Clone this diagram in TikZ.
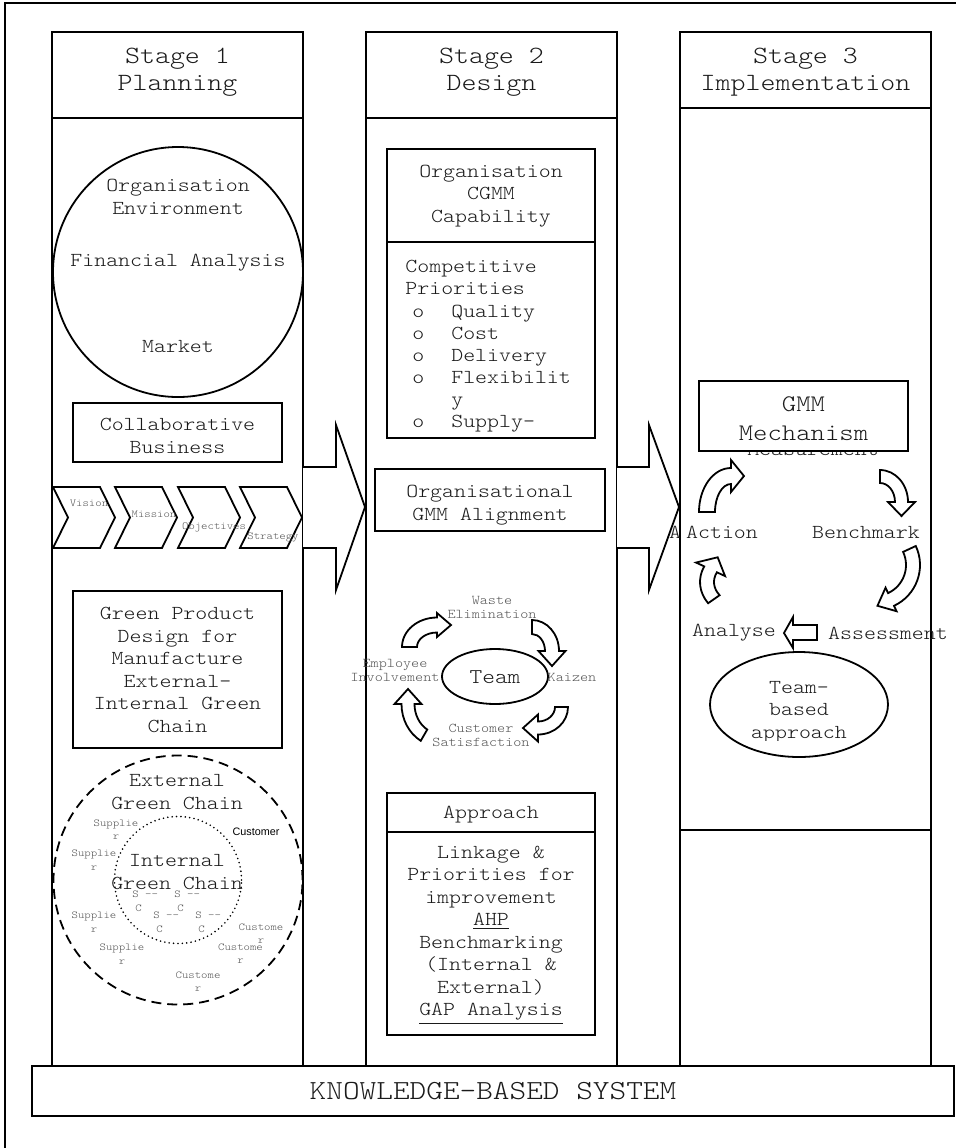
\documentclass[tikz,border=0pt]{standalone}
\usepackage{fontspec}
\setmainfont[FakeStretch=1.15]{lmmonolt10-regular.otf}
\newfontfamily\arialfont{Liberation Sans}
\usetikzlibrary{shapes.geometric,calc}
\definecolor{lbl}{HTML}{555555}
\definecolor{txt}{HTML}{1A1A1A}
\newcommand{\cpbul}[1]{\hspace*{3.5pt}o\hspace*{13.5pt}#1}
\newcommand{\cpcont}[1]{\hspace*{22.94pt}#1}
% curved block arrow: cx, cy, rx, ry, a1, a2, half band, half head, head length
\newcommand{\carrow}[9]{%
 \pgfmathsetmacro\cas{(#6>#5)?1:-1}%
 \pgfmathsetmacro\catx{-(\cas)*(#3)*sin(#6)}%
 \pgfmathsetmacro\caty{(\cas)*(#4)*cos(#6)}%
 \pgfmathsetmacro\catn{sqrt((\catx)*(\catx)+(\caty)*(\caty))}%
 \pgfmathsetmacro\cax{#1+(#3)*cos(#6)+(#9)*(\catx)/(\catn)}%
 \pgfmathsetmacro\cay{#2+(#4)*sin(#6)+(#9)*(\caty)/(\catn)}%
 \draw[blk] ({#1+(#3+#7)*cos(#5)},{#2+(#4+#7)*sin(#5)})
   arc[start angle=#5, end angle=#6, x radius={#3+#7}, y radius={#4+#7}]
   -- ({#1+(#3+#8)*cos(#6)},{#2+(#4+#8)*sin(#6)})
   -- (\cax,\cay)
   -- ({#1+(#3-#8)*cos(#6)},{#2+(#4-#8)*sin(#6)})
   -- ({#1+(#3-#7)*cos(#6)},{#2+(#4-#7)*sin(#6)})
   arc[start angle=#6, end angle=#5, x radius={#3-#7}, y radius={#4-#7}]
   -- cycle;}
\tikzset{
 box/.style={draw, line width=0.9pt, fill=white, rectangle, inner sep=0pt, outer sep=0pt},
 body/.style={font=\fontsize{9.9}{11.25}\selectfont, text=txt, align=center, inner sep=0pt},
 headtxt/.style={font=\fontsize{12.4}{13.5}\selectfont, text=txt, align=center, inner sep=0pt},
 tiny/.style={font=\fontsize{5.3}{6.75}\selectfont, text=lbl, align=center, inner sep=0pt},
 tinyl/.style={font=\fontsize{5.3}{6.75}\selectfont, text=lbl, align=left, inner sep=0pt},
 cyc/.style={font=\fontsize{6.7}{7}\selectfont, text=lbl, align=center, inner sep=0pt},
 blk/.style={draw, line width=0.9pt, fill=white, line join=miter},
}
\begin{document}
\begin{tikzpicture}[x=0.5pt,y=-0.5pt]
\useasboundingbox (0,0) rectangle (956,1148);
\clip (0,0) rectangle (956,1148);
\draw[line width=0.6pt] (5,3) rectangle (1000,1200);

% ---------- columns ----------
\node[box, minimum width=125.5pt, minimum height=474pt] (c1) at (177.5,592) {};
\node[box, minimum width=125.5pt, minimum height=43pt] (h1) at (177.5,75) {};
\node[box, minimum width=125.5pt, minimum height=474pt] (c2) at (491.5,592) {};
\node[box, minimum width=125.5pt, minimum height=43pt] (h2) at (491.5,75) {};
\node[box, minimum width=125.5pt, minimum height=361pt] (c3) at (805.5,469) {};
\node[box, minimum width=125.5pt, minimum height=118pt] (c3b) at (805.5,948) {};
\node[box, minimum width=125.5pt, minimum height=38pt] (h3) at (805.5,70) {};

\node[headtxt] (t1) at (177.5,72) {Stage 1\\Planning};
\node[headtxt] (t2) at (491.5,72) {Stage 2\\Design};
\node[headtxt] (t3) at (805.5,72) {Stage 3\\Implementation};

% ---------- big arrows ----------
\draw[blk] (303,467) -- (336,467) -- (336,425) -- (365,507) -- (336,590) -- (336,548) -- (303,548);
\draw[blk] (617,467) -- (649,467) -- (649,425) -- (679,507) -- (649,590) -- (649,548) -- (617,548);

% ---------- Stage 1 ----------
\node[circle, draw, line width=0.9pt, minimum size=125pt, inner sep=0pt] (env) at (178,272) {};
\node[body] (org) at (178,197) {Organisation\\Environment};
\node[body] (fin) at (178,263) {Financial Analysis};
\node[body] (mkt) at (178,346) {Market};

\node[box, minimum width=104.5pt, minimum height=29.5pt] (collab) at (177.5,432.5) {};
\node[body] (collabt) at (177.5,436) {Collaborative\\Business};

\foreach \xo/\nm in {53/ch1,115/ch2,178/ch3,240/ch4}{
  \draw[blk] (\xo,487) -- ({\xo+47},487) -- ({\xo+62},517.5) -- ({\xo+47},548) -- (\xo,548) -- ({\xo+15},517.5) -- cycle;
}
\node[tiny] (vis) at (89,503) {Vision};
\node[tiny] (mis) at (154,514) {Mission};
\node[tiny] (obj) at (214,527) {Objectives};
\node[tiny] (str) at (273,537) {Strategy};

\node[box, minimum width=104.5pt, minimum height=78.5pt] (gpd) at (177.5,669.5) {};
\node[body] (gpdt) at (177.5,670) {Green Product\\Design for\\Manufacture\\External-\\Internal Green\\Chain};

\node[circle, draw, line width=0.9pt, dash pattern=on 5pt off 3pt, minimum size=124.5pt, inner sep=0pt] (ext) at (178,880) {};
\node[circle, draw, line width=0.9pt, line cap=round, dash pattern=on 0pt off 2.2pt, minimum size=63.5pt, inner sep=0pt] (int) at (178,880) {};
\node[body] (extt) at (177,792) {External\\Green Chain};
\node[body] (intt) at (177,872) {Internal\\Green Chain};

\node[tiny] (s1) at (116,829.5) {Supplie\\r};
\node[tiny] (s2) at (94,860) {Supplie\\r};
\node[tiny] (s3) at (94,922) {Supplie\\r};
\node[tiny] (s4) at (122,954) {Supplie\\r};
\node[font=\arialfont\fontsize{5.4}{6.5}\selectfont, inner sep=0pt] (cu0) at (256,832) {Customer};
\node[tiny] (cu1) at (261,933.5) {Custome\\r};
\node[tiny] (cu2) at (240.5,953.5) {Custome\\r};
\node[tiny] (cu3) at (198,981.5) {Custome\\r};
\node[tinyl, anchor=west] (sc1) at (132,901) {S -{}-\\\hspace*{1.5pt}C};
\node[tinyl, anchor=west] (sc2) at (174,901) {S -{}-\\\hspace*{1.5pt}C};
\node[tinyl, anchor=west] (sc3) at (153,922) {S -{}-\\\hspace*{1.5pt}C};
\node[tinyl, anchor=west] (sc4) at (195,922) {S -{}-\\\hspace*{1.5pt}C};

% ---------- Stage 2 ----------
\node[box, minimum width=104pt, minimum height=46.5pt] (cgmm) at (491,195.5) {};
\node[body] (cgmmt) at (491,196) {Organisation\\CGMM\\Capability};
\node[box, minimum width=104pt, minimum height=98pt] (cpbox) at (491,340) {};
\node[body, align=left, anchor=west, font=\fontsize{9.9}{11.07}\selectfont] (cp) at (405,346.5)
  {Competitive\\Priorities\\\cpbul{Quality}\\\cpbul{Cost}\\\cpbul{Delivery}\\\cpbul{Flexibilit}\\\cpcont{y}\\\cpbul{Supply-}};

\node[box, minimum width=115pt, minimum height=31pt] (align) at (490,500) {};
\node[body] (alignt) at (490,505) {Organisational\\GMM Alignment};

\node[ellipse, draw, line width=0.9pt, minimum width=53pt, minimum height=27.5pt, inner sep=0pt] (team) at (495,676.5) {};
\node[body, font=\fontsize{10.5}{12}\selectfont] (teamt) at (495,677) {Team};
\node[cyc] (waste) at (492,607) {Waste\\Elimination};
\node[cyc] (emp) at (395,670) {Employee\\Involvement};
\node[cyc] (kai) at (572,677) {Kaizen};
\node[cyc] (cs) at (481,735) {Customer\\Satisfaction};
\carrow{437}{647}{27.5}{22}{180}{270}{7.5}{12}{14}
\carrow{532}{651}{20}{24}{270}{360}{7}{13.5}{15}
\carrow{538}{707}{23.5}{21}{0}{90}{6.5}{13.5}{15}
\carrow{440}{704}{32}{36}{120}{180}{6.5}{13.5}{15}

\node[box, minimum width=104pt, minimum height=19.5pt] (apph) at (491,812.5) {};
\node[body] (appt) at (491,815) {Approach};
\node[box, minimum width=104pt, minimum height=101.5pt] (appb) at (491,933.5) {};
\node[body] (appbt) at (491,935) {Linkage \&\\Priorities for\\improvement\\\underline{AHP}\\Benchmarking\\(Internal \&\\External)\\\underline{GAP Analysis}};

% ---------- Stage 3 ----------
\node[body] (meas) at (813,449) {Measurement};
\node[box, minimum width=104.5pt, minimum height=35pt] (gmm) at (803.5,416) {};
\node[font=\fontsize{11.9}{14.5}\selectfont, text=txt, align=center, inner sep=0pt] (gmmt) at (803.5,419) {GMM\\Mechanism};

\node[body] (aa) at (675,532) {A};
\node[body] (act) at (722,532) {Action};
\node[body] (ben) at (866,533) {Benchmark};
\node[body] (ana) at (734,633) {Analyse};
\node[body] (ass) at (888,633) {Assessment};
\carrow{731}{512}{24}{36}{180}{270}{8}{16}{13}
\carrow{880}{502}{21.5}{25.5}{270}{360}{6.5}{13.5}{14}
\carrow{875}{565}{38}{38}{-25}{65}{7}{13}{15}
\carrow{745}{582}{38}{30}{145}{205}{7}{16}{14}
\draw[blk] (784,633) -- (793,617) -- (793,625) -- (817,625) -- (817,640) -- (793,640) -- (793,648) -- cycle;

\node[ellipse, draw, line width=0.9pt, fill=white, minimum width=89pt, minimum height=52.5pt, inner sep=0pt] (tb) at (799,704.5) {};
\begin{scope}
\clip (700,650) rectangle (900,740);
\node[body] (tbt) at (799,712) {Team-\\based\\approach};
\end{scope}

% ---------- knowledge base ----------
\node[box, minimum width=461pt, minimum height=25pt] (kbs) at (493,1091) {};
\node[font=\fontsize{13.8}{15}\selectfont, text=txt, inner sep=0pt] (kbst) at (493,1091) {KNOWLEDGE-BASED SYSTEM};
\end{tikzpicture}
\end{document}
